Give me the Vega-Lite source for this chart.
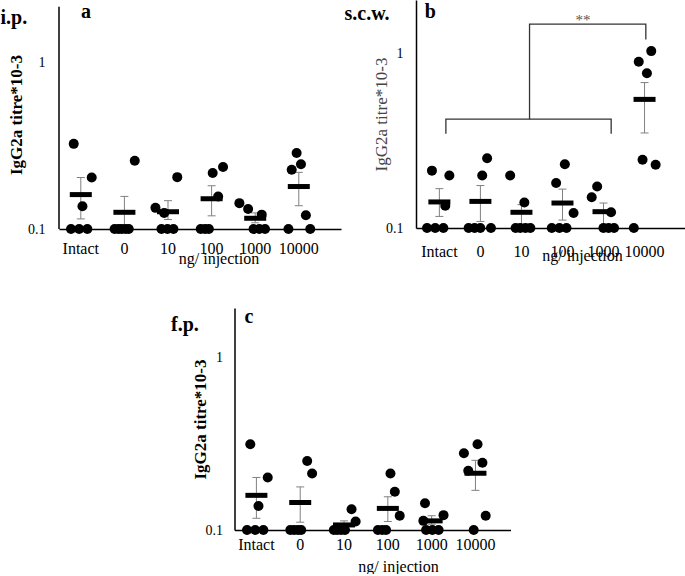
{
  "$schema": "https://vega.github.io/schema/vega-lite/v6.json",
  "padding": 0,
  "background": "white",
  "config": {
    "font": "Liberation Serif",
    "view": {"stroke": null},
    "axis": {"labelColor": "black", "titleColor": "black", "labelFont": "Liberation Serif", "titleFont": "Liberation Serif", "grid": false, "ticks": false, "domainColor": "black", "domainWidth": 1.5},
    "title": {"font": "Liberation Serif", "color": "black"},
    "text": {"font": "Liberation Serif"}
  },
  "datasets": {
    "a_pts": [
      {"g": "Intact", "v": 0.1, "j": -1.8}, {"g": "Intact", "v": 0.1, "j": -0.3}, {"g": "Intact", "v": 0.1, "j": 1.2},
      {"g": "Intact", "v": 0.325, "j": -1.3}, {"g": "Intact", "v": 0.204, "j": 2.0}, {"g": "Intact", "v": 0.137, "j": 0.3},
      {"g": "0", "v": 0.1, "j": -1.8}, {"g": "0", "v": 0.1, "j": -1.1}, {"g": "0", "v": 0.1, "j": -0.5},
      {"g": "0", "v": 0.1, "j": 0.2}, {"g": "0", "v": 0.1, "j": 0.8}, {"g": "0", "v": 0.257, "j": 1.9},
      {"g": "10", "v": 0.1, "j": -1.2}, {"g": "10", "v": 0.1, "j": -0.1}, {"g": "10", "v": 0.1, "j": 1.0},
      {"g": "10", "v": 0.134, "j": -2.3}, {"g": "10", "v": 0.125, "j": -0.7}, {"g": "10", "v": 0.205, "j": 1.7},
      {"g": "100", "v": 0.1, "j": -2.0}, {"g": "100", "v": 0.1, "j": -1.2}, {"g": "100", "v": 0.1, "j": -0.5},
      {"g": "100", "v": 0.217, "j": 0.2}, {"g": "100", "v": 0.236, "j": 2.1}, {"g": "100", "v": 0.157, "j": 1.2},
      {"g": "1000", "v": 0.1, "j": -0.3}, {"g": "1000", "v": 0.1, "j": 0.75}, {"g": "1000", "v": 0.1, "j": 1.8},
      {"g": "1000", "v": 0.143, "j": -2.9}, {"g": "1000", "v": 0.132, "j": -1.3}, {"g": "1000", "v": 0.122, "j": 1.2},
      {"g": "10000", "v": 0.1, "j": -1.9}, {"g": "10000", "v": 0.1, "j": 2.1}, {"g": "10000", "v": 0.286, "j": -0.4},
      {"g": "10000", "v": 0.227, "j": -1.3}, {"g": "10000", "v": 0.245, "j": 0.4}, {"g": "10000", "v": 0.121, "j": 1.3}
    ],
    "a_sum": [
      {"g": "Intact", "mean": 0.161, "lo": 0.115, "hi": 0.204},
      {"g": "0", "mean": 0.126, "lo": 0.104, "hi": 0.157},
      {"g": "10", "mean": 0.127, "lo": 0.114, "hi": 0.148},
      {"g": "100", "mean": 0.152, "lo": 0.12, "hi": 0.182},
      {"g": "1000", "mean": 0.116, "lo": 0.109, "hi": 0.125},
      {"g": "10000", "mean": 0.18, "lo": 0.138, "hi": 0.219}
    ],
    "b_pts": [
      {"g": "Intact", "v": 0.1, "j": -2.5}, {"g": "Intact", "v": 0.1, "j": -1.0}, {"g": "Intact", "v": 0.1, "j": 0.5},
      {"g": "Intact", "v": 0.213, "j": -1.6}, {"g": "Intact", "v": 0.2, "j": 1.6}, {"g": "Intact", "v": 0.134, "j": 0.85},
      {"g": "0", "v": 0.1, "j": -2.4}, {"g": "0", "v": 0.1, "j": -1.3}, {"g": "0", "v": 0.1, "j": -0.25},
      {"g": "0", "v": 0.1, "j": 1.7}, {"g": "0", "v": 0.251, "j": 1.0}, {"g": "0", "v": 0.2, "j": 0.1},
      {"g": "10", "v": 0.1, "j": -1.3}, {"g": "10", "v": 0.1, "j": -0.45}, {"g": "10", "v": 0.1, "j": 0.5},
      {"g": "10", "v": 0.1, "j": 1.4}, {"g": "10", "v": 0.2, "j": -2.3}, {"g": "10", "v": 0.14, "j": 0.3},
      {"g": "100", "v": 0.1, "j": -2.2}, {"g": "100", "v": 0.1, "j": -0.8}, {"g": "100", "v": 0.1, "j": 0.5},
      {"g": "100", "v": 0.232, "j": 0.2}, {"g": "100", "v": 0.181, "j": -1.4}, {"g": "100", "v": 0.122, "j": 1.8},
      {"g": "1000", "v": 0.1, "j": -0.25}, {"g": "1000", "v": 0.1, "j": 0.7}, {"g": "1000", "v": 0.1, "j": 1.7},
      {"g": "1000", "v": 0.173, "j": -1.4}, {"g": "1000", "v": 0.15, "j": -2.4}, {"g": "1000", "v": 0.123, "j": 1.15},
      {"g": "10000", "v": 0.1, "j": -2.2}, {"g": "10000", "v": 1.03, "j": 1.0}, {"g": "10000", "v": 0.895, "j": -1.3},
      {"g": "10000", "v": 0.769, "j": 0.2}, {"g": "10000", "v": 0.246, "j": -0.6}, {"g": "10000", "v": 0.23, "j": 1.8}
    ],
    "b_sum": [
      {"g": "Intact", "mean": 0.141, "lo": 0.1165, "hi": 0.168},
      {"g": "0", "mean": 0.142, "lo": 0.109, "hi": 0.175},
      {"g": "10", "mean": 0.123, "lo": 0.102, "hi": 0.136},
      {"g": "100", "mean": 0.139, "lo": 0.111, "hi": 0.167},
      {"g": "1000", "mean": 0.124, "lo": 0.104, "hi": 0.139},
      {"g": "10000", "mean": 0.545, "lo": 0.35, "hi": 0.68}
    ],
    "b_br": [
      {"p": 1, "o": 1, "g": "Intact", "v": 0.346, "j": 0.96},
      {"p": 1, "o": 2, "g": "Intact", "v": 0.42, "j": 0.96},
      {"p": 1, "o": 3, "g": "1000", "v": 0.42, "j": 1.17},
      {"p": 1, "o": 4, "g": "1000", "v": 0.346, "j": 1.17},
      {"p": 2, "o": 1, "g": "10", "v": 0.42, "j": 1.25},
      {"p": 2, "o": 2, "g": "10", "v": 1.47, "j": 1.25},
      {"p": 2, "o": 3, "g": "10000", "v": 1.47, "j": 0},
      {"p": 2, "o": 4, "g": "10000", "v": 1.2, "j": 0}
    ],
    "c_pts": [
      {"g": "Intact", "v": 0.1, "j": -1.7}, {"g": "Intact", "v": 0.1, "j": -0.2}, {"g": "Intact", "v": 0.1, "j": 1.3},
      {"g": "Intact", "v": 0.315, "j": -1.1}, {"g": "Intact", "v": 0.202, "j": 2.1}, {"g": "Intact", "v": 0.138, "j": 0.4},
      {"g": "0", "v": 0.1, "j": -1.8}, {"g": "0", "v": 0.1, "j": -1.1}, {"g": "0", "v": 0.1, "j": -0.4},
      {"g": "0", "v": 0.1, "j": 0.2}, {"g": "0", "v": 0.252, "j": 1.3}, {"g": "0", "v": 0.213, "j": 2.2},
      {"g": "10", "v": 0.1, "j": -1.85}, {"g": "10", "v": 0.1, "j": -1.2}, {"g": "10", "v": 0.1, "j": -0.5},
      {"g": "10", "v": 0.1, "j": 0.2}, {"g": "10", "v": 0.112, "j": 2.15}, {"g": "10", "v": 0.132, "j": 1.4},
      {"g": "100", "v": 0.1, "j": -1.8}, {"g": "100", "v": 0.1, "j": -1.0}, {"g": "100", "v": 0.1, "j": -0.3},
      {"g": "100", "v": 0.213, "j": 0.5}, {"g": "100", "v": 0.167, "j": 1.3}, {"g": "100", "v": 0.121, "j": 2.2},
      {"g": "1000", "v": 0.1, "j": -1.0}, {"g": "1000", "v": 0.1, "j": 0.15}, {"g": "1000", "v": 0.1, "j": 1.3},
      {"g": "1000", "v": 0.143, "j": -1.2}, {"g": "1000", "v": 0.113, "j": -1.5}, {"g": "1000", "v": 0.122, "j": 2.2},
      {"g": "10000", "v": 0.1, "j": -0.3}, {"g": "10000", "v": 0.279, "j": -2.1}, {"g": "10000", "v": 0.315, "j": 0.4},
      {"g": "10000", "v": 0.246, "j": 1.3}, {"g": "10000", "v": 0.221, "j": -1.3}, {"g": "10000", "v": 0.121, "j": 1.9}
    ],
    "c_sum": [
      {"g": "Intact", "mean": 0.159, "lo": 0.117, "hi": 0.202},
      {"g": "0", "mean": 0.1445, "lo": 0.111, "hi": 0.178},
      {"g": "10", "mean": 0.107, "lo": 0.101, "hi": 0.113},
      {"g": "100", "mean": 0.1335, "lo": 0.112, "hi": 0.156},
      {"g": "1000", "mean": 0.113, "lo": 0.108, "hi": 0.121},
      {"g": "10000", "mean": 0.2137, "lo": 0.17, "hi": 0.254}
    ]
  },
  "center": true,
  "spacing": 40,
  "vconcat": [
    {
      "spacing": 3,
      "hconcat": [
        {
          "width": 282, "height": 229,
          "title": {"text": "i.p.", "anchor": "start", "frame": "bounds", "fontSize": 20, "fontWeight": "bold", "offset": -28, "dx": -7},
          "encoding": {
            "x": {"field": "g", "type": "ordinal", "scale": {"domain": ["Intact", "0", "10", "100", "1000", "10000"], "paddingInner": 0, "paddingOuter": 0.234, "align": 0},
              "axis": {"title": "ng/ injection", "titleX": 159.5, "labelAngle": 0, "labelFontSize": 16, "titleFontSize": 16, "titleFontWeight": "normal", "labelPadding": 11, "titlePadding": -6}}
          },
          "layer": [
            {"data": {"name": "a_sum"}, "mark": {"type": "rule", "color": "#808080", "strokeWidth": 1},
              "encoding": {"y": {"field": "lo", "type": "quantitative", "scale": {"type": "log", "domain": [0.1, 2.38], "nice": false},
                "axis": {"title": "IgG2a titre*10-3", "values": [0.1, 1], "format": "~g", "domain": false, "labelFontSize": 14, "titleFontSize": 17, "titleFontWeight": "bold", "labelPadding": 14, "titlePadding": 2}},
                "y2": {"field": "hi"}}},
            {"data": {"values": [{"g": "Intact", "lo": 0.1, "hi": 2.17}]}, "mark": {"type": "rule", "color": "black", "strokeWidth": 1.5},
              "encoding": {"x": {"field": "g", "type": "ordinal", "bandPosition": 0},
                "y": {"field": "lo", "type": "quantitative", "scale": {"type": "log", "domain": [0.1, 2.38], "nice": false}}, "y2": {"field": "hi"}}},
            {"data": {"name": "a_sum"}, "transform": [{"fold": ["lo", "hi"], "as": ["k", "val"]}], "mark": {"type": "tick", "color": "#808080", "size": 8, "thickness": 1, "opacity": 1},
              "encoding": {"y": {"field": "val", "type": "quantitative", "scale": {"type": "log", "domain": [0.1, 2.38], "nice": false}}}},
            {"data": {"name": "a_pts"}, "mark": {"type": "circle", "size": 100, "opacity": 1, "color": "black"},
              "encoding": {"xOffset": {"field": "j", "type": "quantitative", "scale": {"domain": [-4, 4], "range": [0, 43.6]}},
                "y": {"field": "v", "type": "quantitative", "scale": {"type": "log", "domain": [0.1, 2.38], "nice": false}}}},
            {"data": {"name": "a_sum"}, "mark": {"type": "tick", "color": "black", "size": 22, "thickness": 5, "opacity": 1},
              "encoding": {"y": {"field": "mean", "type": "quantitative", "scale": {"type": "log", "domain": [0.1, 2.38], "nice": false}}}},
            {"data": {"values": [{"t": "a", "g": "Intact", "v": 2.02}]}, "mark": {"type": "text", "fontSize": 20, "fontWeight": "bold", "baseline": "middle", "color": "black"},
              "encoding": {"x": {"field": "g", "type": "ordinal", "bandPosition": 0.62}, "y": {"field": "v", "type": "quantitative", "scale": {"type": "log", "domain": [0.1, 2.38], "nice": false}}, "text": {"field": "t"}}}
          ]
        },
        {
          "width": 270, "height": 228,
          "title": {"text": "s.c.w.", "anchor": "start", "frame": "bounds", "fontSize": 20, "fontWeight": "bold", "offset": -24, "dx": -28},
          "encoding": {
            "x": {"field": "g", "type": "ordinal", "scale": {"domain": ["Intact", "0", "10", "100", "1000", "10000"], "paddingInner": 0, "paddingOuter": 0.29, "align": 0.12},
              "axis": {"title": "ng/ injection", "titleX": 166, "labelAngle": 0, "labelFontSize": 16, "titleFontSize": 16, "titleFontWeight": "normal", "labelPadding": 15, "titlePadding": -12}}
          },
          "layer": [
            {"data": {"name": "b_sum"}, "mark": {"type": "rule", "color": "#808080", "strokeWidth": 1},
              "encoding": {"y": {"field": "lo", "type": "quantitative", "scale": {"type": "log", "domain": [0.1, 2.02], "nice": false},
                "axis": {"title": "IgG2a titre*10-3", "values": [0.1, 1], "format": "~g", "labelFontSize": 14, "titleFontSize": 17, "titleFontWeight": "normal", "titleColor": "#444", "labelPadding": 13, "titlePadding": -5}},
                "y2": {"field": "hi"}}},
            {"data": {"name": "b_sum"}, "transform": [{"fold": ["lo", "hi"], "as": ["k", "val"]}], "mark": {"type": "tick", "color": "#808080", "size": 8, "thickness": 1, "opacity": 1},
              "encoding": {"y": {"field": "val", "type": "quantitative", "scale": {"type": "log", "domain": [0.1, 2.02], "nice": false}}}},
            {"data": {"name": "b_pts"}, "mark": {"type": "circle", "size": 100, "opacity": 1, "color": "black"},
              "encoding": {"xOffset": {"field": "j", "type": "quantitative", "scale": {"domain": [-4, 4], "range": [0, 41]}},
                "y": {"field": "v", "type": "quantitative", "scale": {"type": "log", "domain": [0.1, 2.02], "nice": false}}}},
            {"data": {"name": "b_sum"}, "mark": {"type": "tick", "color": "black", "size": 22, "thickness": 5, "opacity": 1},
              "encoding": {"y": {"field": "mean", "type": "quantitative", "scale": {"type": "log", "domain": [0.1, 2.02], "nice": false}}}},
            {"data": {"name": "b_br"}, "mark": {"type": "line", "color": "#333", "strokeWidth": 1.3},
              "encoding": {"xOffset": {"field": "j", "type": "quantitative"},
                "y": {"field": "v", "type": "quantitative", "scale": {"type": "log", "domain": [0.1, 2.02], "nice": false}},
                "detail": {"field": "p", "type": "nominal"}, "order": {"field": "o", "type": "quantitative"}}},
            {"data": {"values": [{"t": "**", "g": "100", "v": 1.55}]}, "mark": {"type": "text", "fontSize": 15, "color": "#555", "baseline": "middle"},
              "encoding": {"x": {"field": "g", "type": "ordinal", "bandPosition": 1.0},
                "y": {"field": "v", "type": "quantitative", "scale": {"type": "log", "domain": [0.1, 2.02], "nice": false}}, "text": {"field": "t"}}},
            {"data": {"values": [{"t": "b", "g": "Intact", "v": 1.735}]}, "mark": {"type": "text", "fontSize": 20, "fontWeight": "bold", "baseline": "middle", "color": "black"},
              "encoding": {"x": {"field": "g", "type": "ordinal", "bandPosition": 0.28}, "y": {"field": "v", "type": "quantitative", "scale": {"type": "log", "domain": [0.1, 2.02], "nice": false}}, "text": {"field": "t"}}}
          ]
        }
      ]
    },
    {
      "width": 276, "height": 222,
      "title": {"text": "f.p.", "anchor": "start", "frame": "bounds", "fontSize": 20, "fontWeight": "bold", "offset": -28, "dx": -20},
      "encoding": {
        "x": {"field": "g", "type": "ordinal", "scale": {"domain": ["Intact", "0", "10", "100", "1000", "10000"], "paddingInner": 0, "paddingOuter": 0.15, "align": 0},
          "axis": {"title": "ng/ injection", "titleX": 163.5, "labelAngle": 0, "labelFontSize": 16, "titleFontSize": 16, "titleFontWeight": "normal", "labelPadding": 6, "titlePadding": 6}}
      },
      "layer": [
        {"data": {"name": "c_sum"}, "mark": {"type": "rule", "color": "#808080", "strokeWidth": 1},
          "encoding": {"y": {"field": "lo", "type": "quantitative", "scale": {"type": "log", "domain": [0.1, 1.95], "nice": false},
            "axis": {"title": "IgG2a titre*10-3", "values": [0.1, 1], "format": "~g", "labelFontSize": 14, "titleFontSize": 17, "titleFontWeight": "bold", "labelPadding": 12, "titlePadding": -4}},
            "y2": {"field": "hi"}}},
        {"data": {"name": "c_sum"}, "transform": [{"fold": ["lo", "hi"], "as": ["k", "val"]}], "mark": {"type": "tick", "color": "#808080", "size": 8, "thickness": 1, "opacity": 1},
          "encoding": {"y": {"field": "val", "type": "quantitative", "scale": {"type": "log", "domain": [0.1, 1.95], "nice": false}}}},
        {"data": {"name": "c_pts"}, "mark": {"type": "circle", "size": 100, "opacity": 1, "color": "black"},
          "encoding": {"xOffset": {"field": "j", "type": "quantitative", "scale": {"domain": [-4, 4], "range": [0, 43.8]}},
            "y": {"field": "v", "type": "quantitative", "scale": {"type": "log", "domain": [0.1, 1.95], "nice": false}}}},
        {"data": {"name": "c_sum"}, "mark": {"type": "tick", "color": "black", "size": 22, "thickness": 5, "opacity": 1},
          "encoding": {"y": {"field": "mean", "type": "quantitative", "scale": {"type": "log", "domain": [0.1, 1.95], "nice": false}}}},
        {"data": {"values": [{"t": "c", "g": "Intact", "v": 1.74}]}, "mark": {"type": "text", "fontSize": 20, "fontWeight": "bold", "baseline": "middle", "color": "black"},
          "encoding": {"x": {"field": "g", "type": "ordinal", "bandPosition": 0.33}, "y": {"field": "v", "type": "quantitative", "scale": {"type": "log", "domain": [0.1, 1.95], "nice": false}}, "text": {"field": "t"}}}
      ]
    }
  ]
}
